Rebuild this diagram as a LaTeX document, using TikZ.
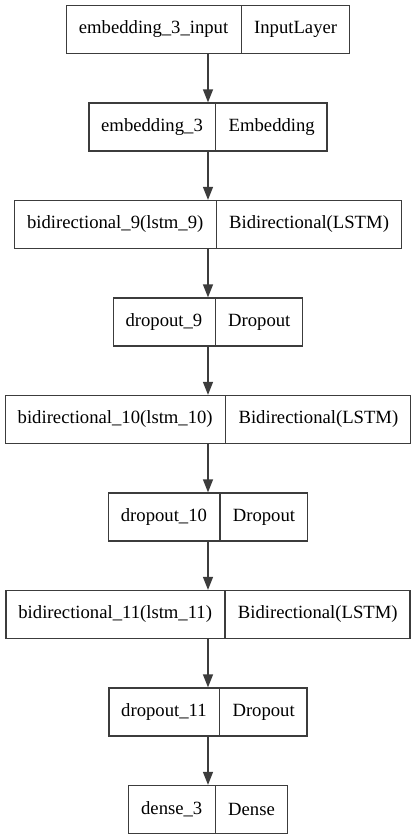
\documentclass[tikz,border=0pt]{standalone}
\usepackage{fontspec}
\setmainfont{Liberation Serif}
\newfontfamily\layerfont{Liberation Serif}
\usetikzlibrary{shapes.multipart,arrows.meta,positioning}
\definecolor{edgegray}{RGB}{60,60,60}

\begin{document}
\begin{tikzpicture}[x=1pt,y=1pt,node distance=48.2pt,
    layer/.style={rectangle split, rectangle split horizontal, rectangle split parts=2,
        draw=edgegray, line width=1.3pt, minimum height=48pt, inner xsep=12.3pt,
        font=\layerfont\fontsize{18.67}{22}\selectfont},
    flow/.style={-{Triangle[length=13pt,width=10pt]}, draw=edgegray, line width=1.3pt}]
    \useasboundingbox (0,0) rectangle (416,-839);

    % Layers, top to bottom
    \node[layer] (input) at (208,-29.5) {embedding\_3\_input \nodepart{two} InputLayer};
    \node[layer, below=of input] (emb) {embedding\_3 \nodepart{two} Embedding};
    \node[layer, below=of emb] (bid9) {bidirectional\_9(lstm\_9) \nodepart{two} Bidirectional(LSTM)};
    \node[layer, below=of bid9] (drop9) {dropout\_9 \nodepart{two} Dropout};
    \node[layer, below=of drop9] (bid10) {bidirectional\_10(lstm\_10) \nodepart{two} Bidirectional(LSTM)};
    \node[layer, below=of bid10] (drop10) {dropout\_10 \nodepart{two} Dropout};
    \node[layer, below=of drop10] (bid11) {bidirectional\_11(lstm\_11) \nodepart{two} Bidirectional(LSTM)};
    \node[layer, below=of bid11] (drop11) {dropout\_11 \nodepart{two} Dropout};
    \node[layer, below=of drop11] (dense) {dense\_3 \nodepart{two} Dense};

    % Connections
    \draw[flow] (input.south) -- (emb.north);
    \draw[flow] (emb.south) -- (bid9.north);
    \draw[flow] (bid9.south) -- (drop9.north);
    \draw[flow] (drop9.south) -- (bid10.north);
    \draw[flow] (bid10.south) -- (drop10.north);
    \draw[flow] (drop10.south) -- (bid11.north);
    \draw[flow] (bid11.south) -- (drop11.north);
    \draw[flow] (drop11.south) -- (dense.north);
\end{tikzpicture}
\end{document}
